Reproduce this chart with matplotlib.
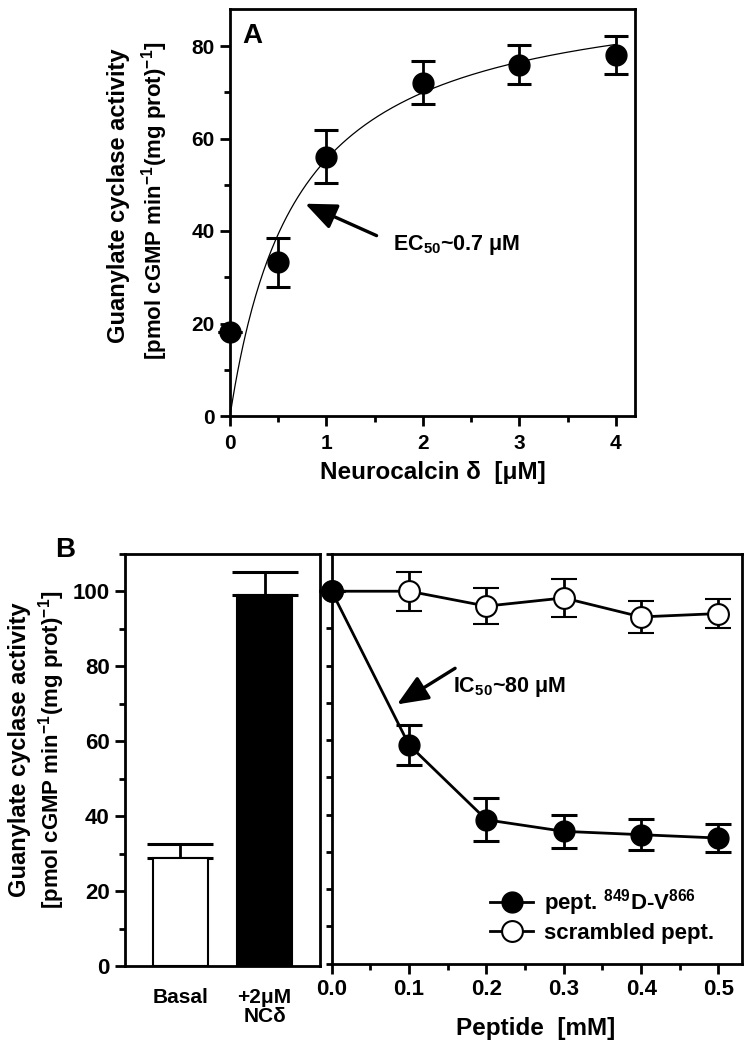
import numpy as np
import matplotlib
matplotlib.use("Agg")
import matplotlib.pyplot as plt
from matplotlib.ticker import MultipleLocator, FormatStrFormatter
from matplotlib.lines import Line2D

plt.rcParams['font.family'] = ['Liberation Sans', 'DejaVu Sans']
plt.rcParams['font.weight'] = 'bold'
plt.rcParams['mathtext.fontset'] = 'custom'
plt.rcParams['mathtext.rm'] = 'Liberation Sans:bold'
plt.rcParams['mathtext.it'] = 'Liberation Sans:bold'
plt.rcParams['mathtext.bf'] = 'Liberation Sans:bold'
plt.rcParams['mathtext.default'] = 'rm'

# ---------------- data ----------------
# Panel A
nc_conc = [0, 0.5, 1, 2, 3, 4]
nc_activity = [18.2, 33.2, 56.1, 72.1, 76.0, 78.1]
nc_err = [0, 5.3, 5.7, 4.7, 4.3, 4.1]
fit_vmax = 94.4
fit_ec50 = 0.7

# Panel B (bars)
bar_labels = ['Basal', '+2\u03bcM\nNC\u03b4']
bar_values = [28.8, 99.1]
bar_err = [3.8, 6.1]
bar_colors = ['white', 'black']

# Panel B (peptide)
pep_conc = [0.0, 0.1, 0.2, 0.3, 0.4, 0.5]
pep_activity = [100, 58.7, 38.6, 35.5, 34.6, 33.7]
pep_err = [0, 5.5, 5.8, 4.4, 4.1, 3.7]
scr_activity = [100, 100.0, 96.0, 98.2, 93.1, 94.0]
scr_err = [0, 5.2, 4.8, 5.0, 4.2, 3.9]

W, H = 752, 1050
fig = plt.figure(figsize=(W / 100, H / 100), dpi=100)


def rect(l, t, r, b):
    return [l / W, 1 - b / H, (r - l) / W, (b - t) / H]


SP = 2.0
MS = 15
ARROW = dict(arrowstyle='-|>,head_length=0.95,head_width=0.4',
             mutation_scale=20, color='black', lw=2.4, shrinkA=0, shrinkB=0)


def style(ax, fs):
    for s in ax.spines.values():
        s.set_linewidth(SP)
    ax.tick_params(which='major', direction='out', length=7, width=SP, labelsize=fs, pad=4)
    ax.tick_params(which='minor', direction='out', length=4.5, width=SP)


# ---------------- Panel A ----------------
axA = fig.add_axes(rect(230, 9, 635, 416))
style(axA, 15)
axA.set_xlim(0, 4.2)
axA.set_ylim(0, 88)
axA.xaxis.set_major_locator(MultipleLocator(1))
axA.xaxis.set_minor_locator(MultipleLocator(0.5))
axA.yaxis.set_major_locator(MultipleLocator(20))
axA.yaxis.set_minor_locator(MultipleLocator(10))
axA.tick_params(axis='x', which='major', pad=6)

xf = np.linspace(0, 4, 300)
axA.plot(xf, fit_vmax * xf / (fit_ec50 + xf), color='black', lw=0.9, zorder=2)
axA.errorbar(nc_conc, nc_activity, yerr=nc_err, fmt='o', color='black', ms=MS,
             elinewidth=2, capsize=8.6, capthick=2.2, clip_on=False, zorder=3)
axA.text(0.03, 0.965, 'A', transform=axA.transAxes, fontsize=20, fontweight='bold',
         va='top', ha='left')
axA.annotate('', xy=(0.78, 45.9), xytext=(1.52, 39.0), arrowprops=ARROW)
axA.text(1.69, 37.0, 'EC$_{50}$~0.7 \u03bcM', fontsize=15.5, va='center', ha='left')

fig.text(119, H - 196, 'Guanylate cyclase activity', transform=None, rotation=90,
         fontsize=17, ha='center', va='center')
fig.text(155, H - 201, '[pmol cGMP min$^{-1}$(mg prot)$^{-1}$]', transform=None,
         rotation=90, fontsize=16, ha='center', va='center')
fig.text(433, H - 473, 'Neurocalcin \u03b4  [\u03bcM]', transform=None, fontsize=17.5,
         ha='center', va='center')

# ---------------- Panel B left (bars) ----------------
axB1 = fig.add_axes(rect(125, 554, 320, 966))
style(axB1, 16)
axB1.set_xlim(-0.66, 1.66)
axB1.set_ylim(0, 110)
axB1.yaxis.set_major_locator(MultipleLocator(20))
axB1.yaxis.set_minor_locator(MultipleLocator(10))
xb = np.arange(len(bar_values))
axB1.bar(xb, bar_values, width=0.65, color=bar_colors, edgecolor='black', lw=1.5, zorder=2)
axB1.errorbar(xb, bar_values, yerr=[[0] * len(bar_err), bar_err], fmt='none',
              ecolor='black', elinewidth=2, capsize=24, capthick=2.2, zorder=1)
axB1.set_xticks(xb)
axB1.set_xticklabels(bar_labels, fontsize=15, linespacing=1.0)
axB1.tick_params(axis='x', which='both', length=0, pad=16)
axB1.text(-0.36, 1.01, 'B', transform=axB1.transAxes, fontsize=20, fontweight='bold',
          ha='left', va='center')
fig.text(20, H - 750, 'Guanylate cyclase activity', transform=None, rotation=90,
         fontsize=17, ha='center', va='center')
fig.text(52, H - 750, '[pmol cGMP min$^{-1}$(mg prot)$^{-1}$]', transform=None,
         rotation=90, fontsize=16, ha='center', va='center')

# ---------------- Panel B right (peptide) ----------------
axB2 = fig.add_axes(rect(331.7, 554, 741.7, 963.5))
style(axB2, 16)
axB2.set_xlim(0, 0.53)
axB2.set_ylim(0, 110)
axB2.xaxis.set_major_locator(MultipleLocator(0.1))
axB2.xaxis.set_minor_locator(MultipleLocator(0.05))
axB2.yaxis.set_major_locator(MultipleLocator(20))
axB2.yaxis.set_minor_locator(MultipleLocator(10))
axB2.xaxis.set_major_formatter(FormatStrFormatter('%.1f'))
axB2.tick_params(axis='y', which='both', labelleft=False, length=4.5)

axB2.errorbar(pep_conc, scr_activity, yerr=scr_err, fmt='-o', color='black', mfc='white',
              mec='black', mew=1.5, ms=MS, lw=2, elinewidth=2, capsize=9.7, capthick=2.2,
              clip_on=False, zorder=3)
axB2.errorbar(pep_conc, pep_activity, yerr=pep_err, fmt='-o', color='black', ms=MS,
              lw=2, elinewidth=2, capsize=9.7, capthick=2.2, clip_on=False, zorder=4)
axB2.annotate('', xy=(0.0845, 69.6), xytext=(0.1595, 79.3), arrowprops=ARROW)
axB2.text(0.157, 74.2, 'IC$_{50}$~80 \u03bcM', fontsize=15.5, va='center', ha='left')

h1 = Line2D([], [], color='black', marker='o', ms=MS, lw=2)
h2 = Line2D([], [], color='black', marker='o', ms=MS, lw=2, mfc='white', mew=1.5)
axB2.legend([h1, h2], ['pept. $^{849}$D-V$^{866}$', 'scrambled pept.'],
            loc='center left', bbox_to_anchor=(0.386, 0.117), frameon=False,
            fontsize=16, handlelength=1.95, handletextpad=0.5, labelspacing=0.2,
            borderpad=0, borderaxespad=0)

fig.text(536, H - 1028, 'Peptide  [mM]', transform=None, fontsize=17.5,
         ha='center', va='center')

fig.savefig('out.png', dpi=100)
